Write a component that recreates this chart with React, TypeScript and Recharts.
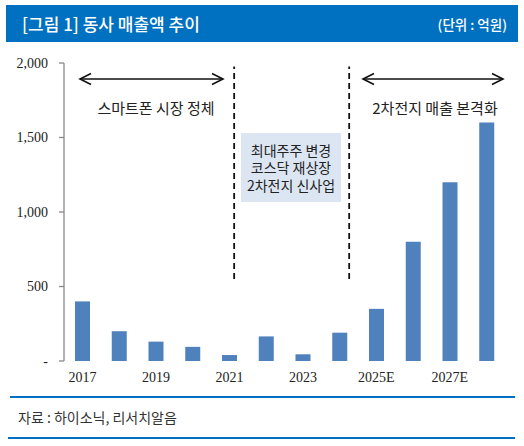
import React from 'react';
import { BarChart, Bar, XAxis, YAxis, ReferenceLine } from 'recharts';

const years = ['2017', '2018', '2019', '2020', '2021', '2022', '2023', '2024', '2025E', '2026E', '2027E', '2028E'];
const revenue = [400, 200, 130, 95, 40, 165, 45, 190, 350, 800, 1200, 1600];
const yTicks = [0, 500, 1000, 1500, 2000];
const bandTicks = [0, 2, 4, 6, 8, 10, 12];

const title = '[그림 1] 동사 매출액 추이';
const unit = '(단위 : 억원)';
const source = '자료 : 하이소닉, 리서치알음';
const leftNote = '스마트폰 시장 정체';
const rightNote = '2차전지 매출 본격화';
const boxLines = ['최대주주 변경', '코스닥 재상장', '2차전지 신사업'];

// pos = slot centre on a 0..12 band scale (used by the helper numeric axis)
const data = years.map((y, i) => ({ year: y, value: revenue[i], pos: i + 0.5 }));

const serif = '"Liberation Serif", "Times New Roman", serif';
const sans = '"Noto Sans CJK KR", "Noto Sans", sans-serif';

const fmt = (v: number) => (v === 0 ? '-' : v.toLocaleString('en-US'));

function Arrow({ x1, x2, y }: { x1: number; x2: number; y: number }) {
  const h = 5.5;
  const l = 11;
  return (
    <g stroke="#111" strokeWidth={1.6} fill="none">
      <line x1={x1} y1={y} x2={x2} y2={y} />
      <polyline points={`${x1 + l},${y - h} ${x1},${y} ${x1 + l},${y + h}`} />
      <polyline points={`${x2 - l},${y - h} ${x2},${y} ${x2 - l},${y + h}`} />
    </g>
  );
}

export default function App() {
  return (
    <div style={{ position: 'absolute', left: 0, top: 0, width: 524, height: 446, background: '#fff', overflow: 'hidden' }}>
      <div
        style={{
          position: 'absolute', left: 6, top: 5, width: 512, height: 37, background: '#0070c0',
          color: '#fff', fontFamily: sans, display: 'flex', alignItems: 'center', justifyContent: 'space-between',
          boxSizing: 'border-box', padding: '0 11px 0 16px',
        }}
      >
        <span style={{ fontSize: 17, fontWeight: 500 }}>{title}</span>
        <span style={{ fontSize: 13.5, fontWeight: 500 }}>{unit}</span>
      </div>

      <div style={{ position: 'absolute', left: 0, top: 0 }}>
        <BarChart width={524} height={446} data={data} margin={{ top: 63, right: 19, bottom: 55, left: 0 }}>
          <XAxis
            xAxisId="n"
            type="number"
            dataKey="pos"
            domain={[0, 12]}
            allowDataOverflow
            ticks={bandTicks}
            interval={0}
            height={0}
            tickFormatter={() => ''}
            tickSize={5}
            axisLine={{ stroke: '#898989', strokeWidth: 1.3 }}
            tickLine={{ stroke: '#898989', strokeWidth: 1.3 }}
          />
          <XAxis
            xAxisId="c"
            dataKey="year"
            interval={1}
            height={30}
            axisLine={false}
            tickLine={false}
            tickMargin={5}
            tick={{ fontFamily: serif, fontSize: 14, fill: '#222' }}
          />
          <YAxis
            width={64}
            domain={[0, 2000]}
            ticks={yTicks}
            tickFormatter={fmt}
            tickSize={5}
            tickMargin={11}
            axisLine={{ stroke: '#898989', strokeWidth: 1.3 }}
            tickLine={{ stroke: '#898989', strokeWidth: 1.3 }}
            tick={{ fontFamily: serif, fontSize: 14, fill: '#222' }}
          />
          <Bar xAxisId="c" dataKey="value" fill="#4f81bd" barSize={15} isAnimationActive={false} />
          <ReferenceLine
            xAxisId="n"
            segment={[{ x: 4.63, y: 551 }, { x: 4.63, y: 1977 }]}
            stroke="#111"
            strokeWidth={1.8}
            strokeDasharray="6 4"
            ifOverflow="visible"
          />
          <ReferenceLine
            xAxisId="n"
            segment={[{ x: 7.76, y: 551 }, { x: 7.76, y: 1977 }]}
            stroke="#111"
            strokeWidth={1.8}
            strokeDasharray="6 4"
            ifOverflow="visible"
          />
        </BarChart>
      </div>

      <svg width={524} height={446} style={{ position: 'absolute', left: 0, top: 0, pointerEvents: 'none' }}>
        <Arrow x1={80} x2={223} y={79} />
        <Arrow x1={363} x2={503} y={79} />
        <text x={156} y={107} textAnchor="middle" dominantBaseline="central" fontFamily={sans} fontSize={15} fill="#222">{leftNote}</text>
        <text x={435} y={107} textAnchor="middle" dominantBaseline="central" fontFamily={sans} fontSize={15} fill="#222">{rightNote}</text>
        <rect x={241} y={133} width={100} height={69} fill="#dce6f2" />
        <text x={291} y={150.5} textAnchor="middle" fontFamily={sans} fontSize={14} fill="#222">
          {boxLines.map((t, i) => (
            <tspan key={t} x={291} dy={i === 0 ? 5 : 17.5}>{t}</tspan>
          ))}
        </text>
        <line x1={10} y1={397} x2={515} y2={397} stroke="#0070c0" strokeWidth={2} />
        <text x={18} y={417} dominantBaseline="central" fontFamily={sans} fontSize={14} fill="#333">{source}</text>
        <line x1={8} y1={438} x2={515} y2={438} stroke="#0070c0" strokeWidth={2} />
      </svg>
    </div>
  );
}
